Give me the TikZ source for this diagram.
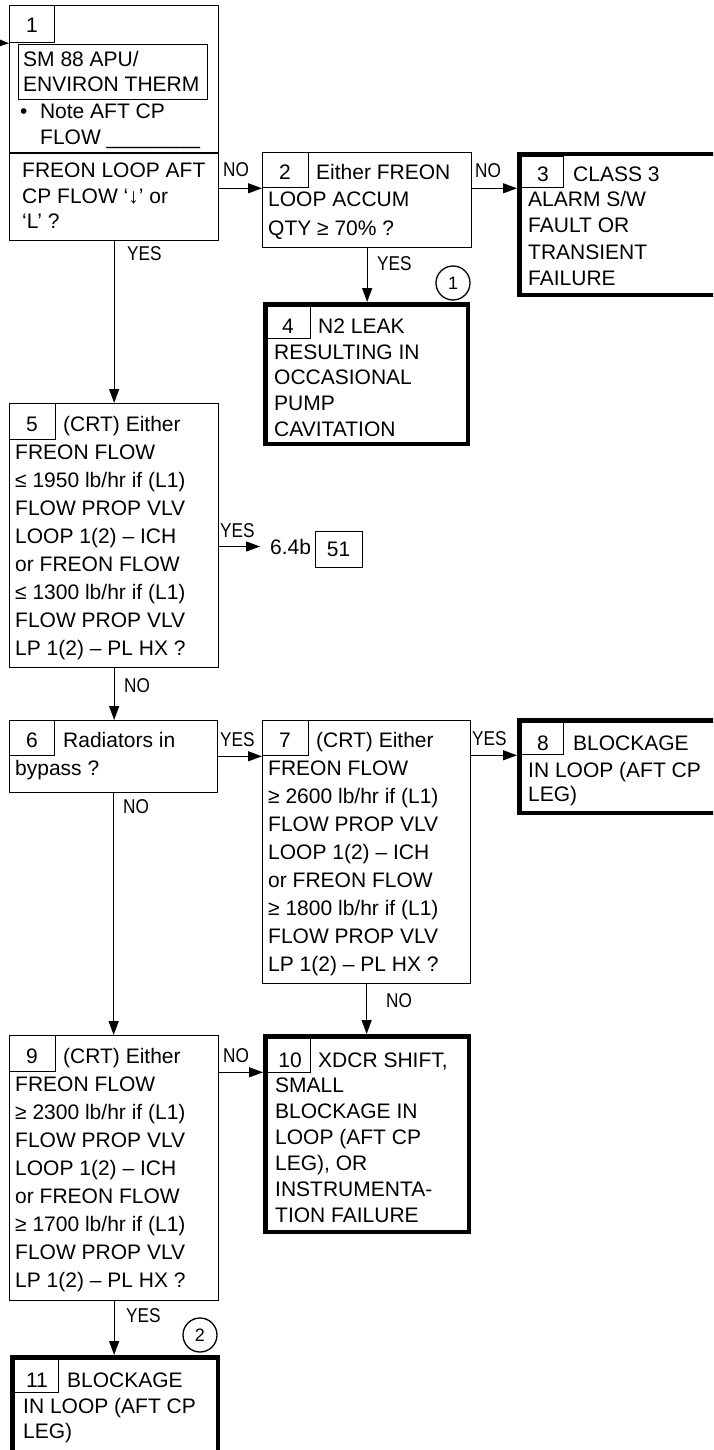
\documentclass[tikz,border=0pt]{standalone}
\usepackage{fontspec}
\setmainfont{Liberation Sans}
\newfontfamily\narrowfont[FakeStretch=0.86]{Liberation Sans}
\usetikzlibrary{arrows.meta,calc}
\tikzset{
  box/.style={draw, line width=1.3pt, inner sep=0pt, anchor=north west},
  tbox/.style={draw, line width=4.5pt, inner sep=0pt, anchor=north west},
  numbox/.style={draw, line width=1.3pt, inner sep=0pt, anchor=north west},
  txt/.style={inner sep=0pt, anchor=base west, font=\fontsize{21}{25}\selectfont},
  numtxt/.style={inner sep=0pt, anchor=base, font=\fontsize{21}{25}\selectfont},
  lab/.style={inner sep=0pt, anchor=base west, font=\narrowfont\fontsize{20}{22}\selectfont},
  circ/.style={draw, circle, line width=1.3pt, minimum size=34pt, inner sep=0pt, font=\fontsize{18}{18}\selectfont},
  arr/.style={-{Triangle[length=14pt,width=10pt]}, line width=1.3pt},
  conn/.style={line width=1.3pt}
}
\newcommand\txtlines[5]{\foreach \l [count=\i from 0] in {#5}{\node[txt] (#1-\i) at (#2,{#3+\i*#4}) {\l};}}
\begin{document}
\begin{tikzpicture}[x=1pt,y=-1pt]
\useasboundingbox (0,0) rectangle (713,1450);
\clip (0,0) rectangle (713,1450);

% ---------- Box 1
\node[box, minimum width=209, minimum height=235] (b1) at (9,5) {};
\node[numbox, minimum width=45, minimum height=37] (n1) at (9,5) {};
\node[numtxt] (k1) at (32,33) {1};
\node[box, minimum width=189, minimum height=55] (sm) at (18,44) {};
\txtlines{t1a}{23}{67}{25}{SM 88 APU/,ENVIRON THERM}
\node[txt] (t1b) at (20,119) {•\hspace{12.5pt}Note AFT CP};
\node[txt] (t1c) at (40,145) {FLOW \_\_\_\_\_\_\_\_};
\draw[conn] (9,153) -- (218,153);
\txtlines{t1d}{22}{178}{25.5}{FREON LOOP AFT,CP FLOW ‘↓’ or,‘L’ ?}
\coordinate (in1) at (-20,42);
\draw[arr] (in1) -- (n1.south west);

% ---------- Box 2
\node[box, minimum width=209, minimum height=95] (b2) at (262,152) {};
\node[numbox, minimum width=46, minimum height=35] (n2) at (262,152) {};
\node[numtxt] (k2) at (285,180) {2};
\node[txt] (t2a) at (316,180) {Either FREON};
\txtlines{t2b}{268}{207}{28}{LOOP ACCUM,QTY ≥ 70\% ?}

% ---------- Box 3
\node[tbox, minimum width=213.5, minimum height=140.5] (b3) at (517,152) {};
\node[numbox, minimum width=42, minimum height=31] (n3) at (521,156) {};
\node[numtxt] (k3) at (543,182) {3};
\node[txt] (t3a) at (573,182) {CLASS 3};
\txtlines{t3b}{528}{207}{26}{ALARM S/W,FAULT OR,TRANSIENT,FAILURE}

% ---------- Box 4
\node[tbox, minimum width=202.5, minimum height=139.5] (b4) at (263,302) {};
\node[numbox, minimum width=43, minimum height=32] (n4) at (267,306) {};
\node[numtxt] (k4) at (288,333) {4};
\node[txt] (t4a) at (318,333) {N2 LEAK};
\txtlines{t4b}{274}{359}{25.7}{RESULTING IN,OCCASIONAL,PUMP,CAVITATION}
\node[circ] (c1) at (453,283) {1};

% ---------- Box 5
\node[box, minimum width=209, minimum height=264] (b5) at (9,403) {};
\node[numbox, minimum width=46, minimum height=36] (n5) at (9,403) {};
\node[numtxt] (k5) at (32,431) {5};
\node[txt] (t5a) at (63,431) {(CRT) Either};
\txtlines{t5b}{15}{459}{28}{FREON FLOW,≤ 1950 lb/hr if (L1),FLOW PROP VLV,LOOP 1(2) – ICH,or FREON FLOW,≤ 1300 lb/hr if (L1),FLOW PROP VLV,LP 1(2) – PL HX ?}
\node[inner xsep=10pt, inner ysep=0pt, anchor=base west, font=\fontsize{21}{25}\selectfont] (t64) at (260,554) {6.4b};
\node[box, minimum width=47, minimum height=36] (b51) at (315,531) {};
\node[numtxt] (k51) at (338.5,556) {51};

% ---------- Box 6
\node[box, minimum width=208, minimum height=72] (b6) at (9,720) {};
\node[numbox, minimum width=45, minimum height=35] (n6) at (9,720) {};
\node[numtxt] (k6) at (32,747) {6};
\node[txt] (t6a) at (63,747) {Radiators in};
\node[txt] (t6b) at (15,775) {bypass ?};

% ---------- Box 7
\node[box, minimum width=208, minimum height=263] (b7) at (262,720) {};
\node[numbox, minimum width=46, minimum height=35] (n7) at (262,720) {};
\node[numtxt] (k7) at (285,747) {7};
\node[txt] (t7a) at (316,747) {(CRT) Either};
\txtlines{t7b}{268}{775}{28}{FREON FLOW,≥ 2600 lb/hr if (L1),FLOW PROP VLV,LOOP 1(2) – ICH,or FREON FLOW,≥ 1800 lb/hr if (L1),FLOW PROP VLV,LP 1(2) – PL HX ?}

% ---------- Box 8
\node[tbox, minimum width=213.5, minimum height=92.5] (b8) at (517,718) {};
\node[numbox, minimum width=42, minimum height=32] (n8) at (521,722) {};
\node[numtxt] (k8) at (543,750) {8};
\node[txt] (t8a) at (573,750) {BLOCKAGE};
\txtlines{t8b}{528}{777}{24.5}{IN LOOP (AFT CP,LEG)}

% ---------- Box 9
\node[box, minimum width=209, minimum height=265] (b9) at (9,1035) {};
\node[numbox, minimum width=46, minimum height=36] (n9) at (9,1035) {};
\node[numtxt] (k9) at (32,1063) {9};
\node[txt] (t9a) at (63,1063) {(CRT) Either};
\txtlines{t9b}{15}{1091}{28}{FREON FLOW,≥ 2300 lb/hr if (L1),FLOW PROP VLV,LOOP 1(2) – ICH,or FREON FLOW,≥ 1700 lb/hr if (L1),FLOW PROP VLV,LP 1(2) – PL HX ?}

% ---------- Box 10
\node[tbox, minimum width=203.5, minimum height=195.5] (b10) at (263,1034) {};
\node[numbox, minimum width=43, minimum height=34] (n10) at (267,1038) {};
\node[numtxt] (k10) at (290,1067) {10};
\node[txt] (t10a) at (318,1067) {XDCR SHIFT,};
\txtlines{t10b}{275}{1092}{26}{SMALL,BLOCKAGE IN,LOOP (AFT CP,{LEG), OR},INSTRUMENTA-,TION FAILURE}

% ---------- Box 11
\node[tbox, minimum width=205.5, minimum height=120] (b11) at (10,1355) {};
\node[numbox, minimum width=44, minimum height=33] (n11) at (14,1359) {};
\node[numtxt] (k11) at (37,1387) {11};
\node[txt] (t11a) at (67,1387) {BLOCKAGE};
\txtlines{t11b}{23}{1413}{25}{IN LOOP (AFT CP,LEG)}
\node[circ] (c2) at (200,1335) {2};

% ---------- Connectors
\draw[arr] (b1.east |- n2.south west) -- (n2.south west);
\draw[arr] (b2.east |- n2.south west) -- (b3.west |- n2.south west);
\draw[arr] (b2.south) -- (b2.south |- b4.north);
\draw[arr] (b1.south) -- (b1.south |- b5.north);
\draw[arr] (b5.east |- t64.west) -- (t64.west);
\draw[arr] (b5.south) -- (b5.south |- b6.north);
\draw[arr] (b6.east |- n7.south west) -- (n7.south west);
\draw[arr] (b7.east |- n8.south west) -- (b8.west |- n8.south west);
\draw[arr] (b6.south) -- (b6.south |- b9.north);
\draw[arr] (b7.south) -- (b7.south |- b10.north);
\draw[arr] (b9.east |- n9.south west) -- (b10.west |- n9.south west);
\draw[arr] (b9.south) -- (b9.south |- b11.north);

% ---------- Labels
\node[lab] (l1) at (223,177) {NO};
\node[lab] (l2) at (127,260) {YES};
\node[lab] (l3) at (475,178) {NO};
\node[lab] (l4) at (377,270) {YES};
\node[lab] (l5) at (220,537) {YES};
\node[lab] (l6) at (124,692) {NO};
\node[lab] (l7) at (220,746) {YES};
\node[lab] (l8) at (123,813) {NO};
\node[lab] (l9) at (472,745) {YES};
\node[lab] (l10) at (386,1007) {NO};
\node[lab] (l11) at (223,1062) {NO};
\node[lab] (l12) at (126,1322) {YES};
\end{tikzpicture}
\end{document}
